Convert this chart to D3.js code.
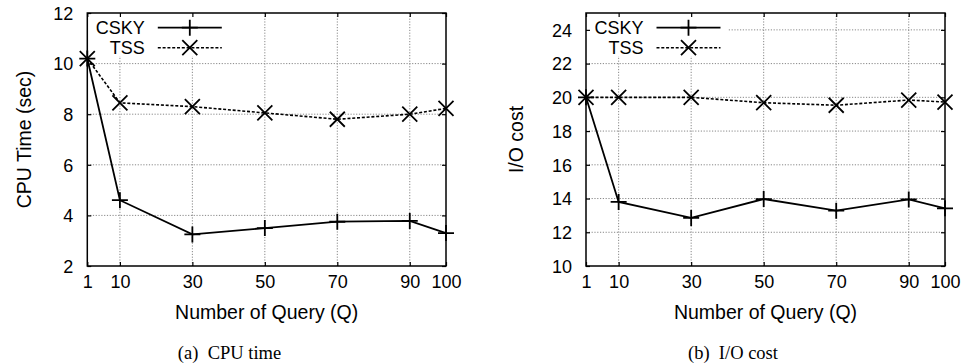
<!DOCTYPE html>
<html>
<head>
<meta charset="utf-8">
<script src="https://cdn.jsdelivr.net/npm/d3@7"></script>
<style>
  html, body { margin: 0; padding: 0; background: #fff; }
  svg { display: block; }
  text { font-family: "Liberation Sans", Arial, Helvetica, sans-serif; fill: #000; }
  .caption { font-family: "Liberation Serif", "Times New Roman", serif; }
</style>
</head>
<body>
<svg id="chart" width="964" height="364"></svg>
<script>
// ---- data ----
const queries = [1, 10, 30, 50, 70, 90, 100];
const xTickValues = [1, 10, 30, 50, 70, 90, 100];
const seriesNames = ["CSKY", "TSS"];

const cpuCSKY = [10.2, 4.6, 3.25, 3.5, 3.75, 3.78, 3.3];
const cpuTSS  = [10.2, 8.45, 8.3, 8.05, 7.8, 8.0, 8.23];
const cpuTicks = [2, 4, 6, 8, 10, 12];

const ioCSKY = [20, 13.8, 12.85, 13.97, 13.28, 13.95, 13.42];
const ioTSS  = [20, 20, 20, 19.68, 19.53, 19.84, 19.72];
const ioTicks = [10, 12, 14, 16, 18, 20, 22, 24];

const xLabel = "Number of Query (Q)";

// ---- layout ----
const svg = d3.select("#chart");

const panels = [
  { left: 87.3, right: 446, top: 13, bottom: 266, yDomain: [2, 12], yTicks: cpuTicks,
    series: [cpuCSKY, cpuTSS], yLabel: "CPU Time (sec)", yLabelX: 31,
    caption: "(a) CPU time", captionX: 229.5 },
  { left: 586, right: 945, top: 13, bottom: 266, yDomain: [10, 25], yTicks: ioTicks,
    series: [ioCSKY, ioTSS], yLabel: "I/O cost", yLabelX: 523,
    caption: "(b) I/O cost", captionX: 733 }
];

panels.forEach((p, pi) => {
  const g = svg.append("g");
  const x = d3.scaleLinear().domain([1, 100]).range([p.left, p.right]);
  const y = d3.scaleLinear().domain(p.yDomain).range([p.bottom, p.top]);
  const W = p.right - p.left, H = p.bottom - p.top;

  const clipId = "gridclip" + pi;
  // grid clip excludes legend box
  const legBoxRight = p.left + 142;
  const legBoxBottom = 56;
  const defs = g.append("defs");
  const cp = defs.append("clipPath").attr("id", clipId);
  cp.append("path")
    .attr("clip-rule", "evenodd")
    .attr("d", `M${p.left},${p.top}H${p.right}V${p.bottom}H${p.left}Z M${p.left},${p.top}H${legBoxRight}V${legBoxBottom}H${p.left}Z`);

  // grid
  const grid = g.append("g").attr("clip-path", `url(#${clipId})`)
    .attr("stroke", "#888").attr("stroke-width", 1).attr("stroke-dasharray", "1.2,1.6");
  xTickValues.filter(v => v !== 1 && v !== 100).forEach(v => {
    grid.append("line").attr("x1", x(v)).attr("x2", x(v)).attr("y1", p.top).attr("y2", p.bottom);
  });
  p.yTicks.filter(v => y(v) > p.top + 1 && y(v) < p.bottom - 1).forEach(v => {
    grid.append("line").attr("x1", p.left).attr("x2", p.right).attr("y1", y(v)).attr("y2", y(v));
  });

  // axes with inward ticks
  const tickLen = 4;
  const axB = g.append("g").attr("transform", `translate(0,${p.bottom})`)
    .call(d3.axisBottom(x).tickValues(xTickValues).tickSizeInner(-tickLen).tickSizeOuter(0).tickPadding(9));
  const axT = g.append("g").attr("transform", `translate(0,${p.top})`)
    .call(d3.axisTop(x).tickValues(xTickValues).tickSizeInner(-tickLen).tickSizeOuter(0).tickFormat(""));
  const axL = g.append("g").attr("transform", `translate(${p.left},0)`)
    .call(d3.axisLeft(y).tickValues(p.yTicks).tickSizeInner(-tickLen).tickSizeOuter(0).tickPadding(14));
  const axR = g.append("g").attr("transform", `translate(${p.right},0)`)
    .call(d3.axisRight(y).tickValues(p.yTicks).tickSizeInner(-tickLen).tickSizeOuter(0).tickFormat(""));
  [axB, axT, axL, axR].forEach(a => {
    a.select(".domain").remove();
    a.selectAll(".tick line").attr("stroke", "#000").attr("stroke-width", 1.2);
    a.selectAll("text").attr("font-size", "18px").attr("font-family", "Liberation Sans, Arial, sans-serif").attr("fill", "#000");
  });
  axB.selectAll("text").attr("dy", "0.71em");
  axL.selectAll("text").attr("dy", "0.35em");

  // frame
  g.append("rect").attr("x", p.left).attr("y", p.top).attr("width", W).attr("height", H)
    .attr("fill", "none").attr("stroke", "#000").attr("stroke-width", 1.5);

  // lines
  const styles = [
    { dash: null, width: 1.8 },
    { dash: "3,1.8", width: 1.6 }
  ];
  const line = d3.line().x(d => x(d[0])).y(d => y(d[1]));
  p.series.forEach((vals, si) => {
    const pts = queries.map((q, i) => [q, vals[i]]);
    g.append("path").datum(pts).attr("d", line)
      .attr("fill", "none").attr("stroke", "#000").attr("stroke-width", styles[si].width)
      .attr("stroke-dasharray", styles[si].dash);
    pts.forEach(d => drawMarker(g, si, x(d[0]), y(d[1])));
  });

  // legend
  const legTextX = p.left + 57.5;
  const legLineX1 = p.left + 70.5, legLineX2 = p.left + 134.5;
  const legRowY = [27.7, 47.7];
  seriesNames.forEach((name, si) => {
    g.append("text").attr("x", legTextX).attr("y", legRowY[si]).attr("dy", "0.35em")
      .attr("text-anchor", "end").attr("font-size", "18px").text(name);
    g.append("line").attr("x1", legLineX1).attr("x2", legLineX2)
      .attr("y1", legRowY[si]).attr("y2", legRowY[si])
      .attr("stroke", "#000").attr("stroke-width", styles[si].width)
      .attr("stroke-dasharray", styles[si].dash);
    drawMarker(g, si, (legLineX1 + legLineX2) / 2, legRowY[si]);
  });

  // axis labels
  g.append("text").attr("x", (p.left + p.right) / 2).attr("y", 319)
    .attr("text-anchor", "middle").attr("font-size", "19.5px").text(xLabel);
  g.append("text")
    .attr("transform", `translate(${p.yLabelX},${(p.top + p.bottom) / 2}) rotate(-90)`)
    .attr("text-anchor", "middle").attr("font-size", "19.5px").text(p.yLabel);

  // caption
  g.append("text").attr("class", "caption").attr("x", p.captionX).attr("y", 359)
    .attr("text-anchor", "middle").attr("font-size", "18.5px")
    .attr("xml:space", "preserve").style("white-space", "pre").text(p.caption.replace(") ", ")  "));
});

function drawMarker(g, type, cx, cy) {
  if (type === 0) {
    const s = 8;
    g.append("path").attr("d", `M${cx - s},${cy}H${cx + s}M${cx},${cy - s}V${cy + s}`)
      .attr("stroke", "#000").attr("stroke-width", 1.8).attr("fill", "none");
  } else {
    const s = 7.5;
    g.append("path").attr("d", `M${cx - s},${cy - s}L${cx + s},${cy + s}M${cx - s},${cy + s}L${cx + s},${cy - s}`)
      .attr("stroke", "#000").attr("stroke-width", 1.8).attr("fill", "none");
  }
}
</script>
</body>
</html>
